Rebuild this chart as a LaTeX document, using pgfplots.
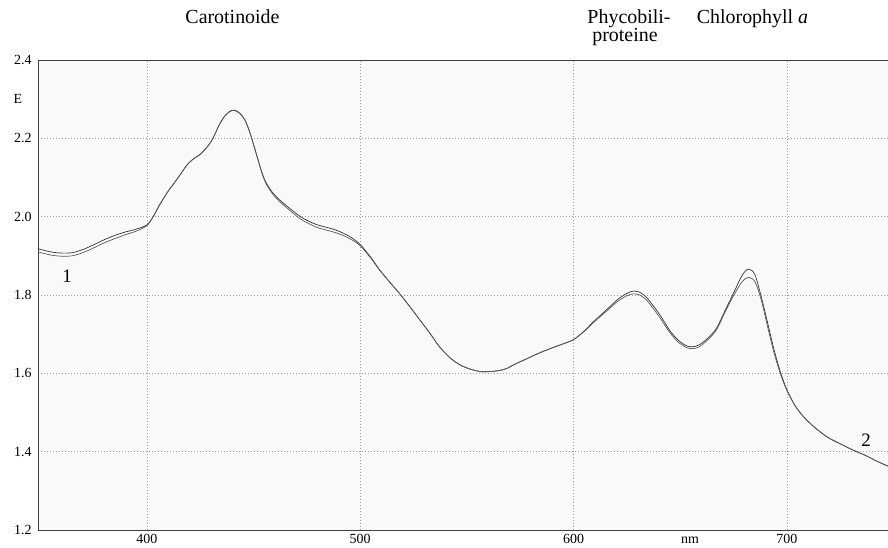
\documentclass[border=0pt]{standalone}
\usepackage{fontspec}
\setmainfont{Liberation Serif}
\usepackage{pgfplots}
\pgfplotsset{compat=1.18}
\pgfplotstableread{
nm E
349 1.918
355 1.910
360 1.907
365 1.908
370 1.916
375 1.928
380 1.941
385 1.952
390 1.961
395 1.968
400 1.979
403 2.000
406 2.030
410 2.065
413 2.087
416 2.110
419 2.133
422 2.148
425 2.159
428 2.176
431 2.200
434 2.235
437 2.260
440 2.272
442 2.270
444 2.262
446 2.247
448 2.220
450 2.185
452 2.148
454 2.112
456 2.086
459 2.061
462 2.044
467 2.021
472 2.000
476 1.988
480 1.979
484 1.973
488 1.967
492 1.958
496 1.946
500 1.929
505 1.896
509 1.865
514 1.832
519 1.800
524 1.765
528 1.736
533 1.700
537 1.669
542 1.640
547 1.621
552 1.610
557 1.604
562 1.605
566 1.608
569 1.613
572 1.622
578 1.637
584 1.652
590 1.665
595 1.675
600 1.686
605 1.708
609 1.730
613 1.750
617 1.770
621 1.790
625 1.804
628 1.810
631 1.807
634 1.795
637 1.775
641 1.745
645 1.710
649 1.685
653 1.670
656 1.668
659 1.673
663 1.690
667 1.715
671 1.760
675 1.805
679 1.850
682 1.866
685 1.852
688 1.795
691 1.728
694 1.660
697 1.603
700 1.558
704 1.516
708 1.488
713 1.462
719 1.437
725 1.420
731 1.404
737 1.390
742 1.376
747.4 1.363
}\curveA
\pgfplotstableread{
nm E
349 1.910
355 1.902
360 1.899
365 1.900
370 1.908
375 1.920
380 1.933
385 1.944
390 1.954
395 1.963
400 1.977
403 2.000
406 2.030
410 2.065
413 2.087
416 2.110
419 2.133
422 2.148
425 2.159
428 2.176
431 2.200
434 2.235
437 2.260
440 2.271
442 2.269
444 2.261
446 2.246
448 2.219
450 2.184
452 2.147
454 2.110
456 2.083
459 2.058
462 2.040
467 2.016
472 1.994
476 1.982
480 1.972
484 1.966
488 1.960
492 1.952
496 1.941
500 1.926
505 1.894
509 1.864
514 1.832
519 1.800
524 1.765
528 1.736
533 1.700
537 1.669
542 1.640
547 1.621
552 1.610
557 1.604
562 1.605
566 1.608
569 1.613
572 1.622
578 1.637
584 1.652
590 1.665
595 1.675
600 1.686
605 1.707
609 1.728
613 1.747
617 1.766
621 1.785
625 1.798
628 1.803
631 1.800
634 1.788
637 1.768
641 1.738
645 1.705
649 1.680
653 1.666
656 1.663
659 1.668
663 1.686
667 1.711
671 1.756
675 1.798
679 1.834
682 1.845
685 1.834
688 1.787
691 1.718
694 1.652
697 1.598
700 1.556
704 1.516
708 1.488
713 1.462
719 1.437
725 1.420
731 1.404
737 1.390
742 1.376
747.4 1.363
}\curveB
\begin{document}
\begin{tikzpicture}[x=1bp,y=1bp]
\path[use as bounding box] (0,0) rectangle (888,548);
\begin{axis}[
  at={(38bp,18bp)}, anchor=south west,
  scale only axis, width=850bp, height=470bp,
  xmin=349, xmax=747.4, ymin=1.2, ymax=2.4,
  xtick={400,500,600,700},
  ytick={1.2,1.4,1.6,1.8,2.0,2.2,2.4},
  yticklabel style={/pgf/number format/fixed, /pgf/number format/fixed zerofill, /pgf/number format/precision=1},
  /pgf/number format/assume math mode=true,
  ticklabel style={font=\fontsize{14}{16}\selectfont},
  xticklabel style={anchor=base, yshift=-14bp},
  yticklabel style={anchor=east, xshift=-3bp},
  major tick length=0pt,
  grid=major,
  major grid style={line width=0.6bp, gray!75, dash pattern=on 1bp off 2bp},
  axis line style={draw=none},
  axis background/.style={fill=gray!5},
  clip=false,
]
\draw[black!75, line width=0.9bp] (rel axis cs:1,1) -- (rel axis cs:0,1) -- (rel axis cs:0,0) -- (rel axis cs:1,0);
\addplot[black!80, line width=0.7bp, smooth, tension=0.5] table[x=nm, y=E] {\curveA};
\addplot[black!65, line width=0.7bp, smooth, tension=0.5] table[x=nm, y=E] {\curveB};
\node[anchor=base, font=\fontsize{19}{21}\selectfont] at (axis cs:362.7,1.831) {1};
\node[anchor=base, font=\fontsize{19}{21}\selectfont] at (axis cs:737.1,1.412) {2};
\node[font=\fontsize{14}{16}\selectfont] at (rel axis cs:0,0.9167) [xshift=-20bp] {E};
\node[anchor=base, font=\fontsize{14}{16}\selectfont] at (axis cs:654.6,1.2) [yshift=-14bp] {nm};
\end{axis}
\node[anchor=base, font=\fontsize{20}{24}\selectfont] at (232.5,524) {Carotinoide};
\node[anchor=base, font=\fontsize{20}{24}\selectfont] at (629,524) {Phycobili-};
\node[anchor=base, font=\fontsize{20}{24}\selectfont] at (625,506) {proteine};
\node[anchor=base, font=\fontsize{20}{24}\selectfont] at (752.5,524) {Chlorophyll \textit{a}};
\end{tikzpicture}
\end{document}
